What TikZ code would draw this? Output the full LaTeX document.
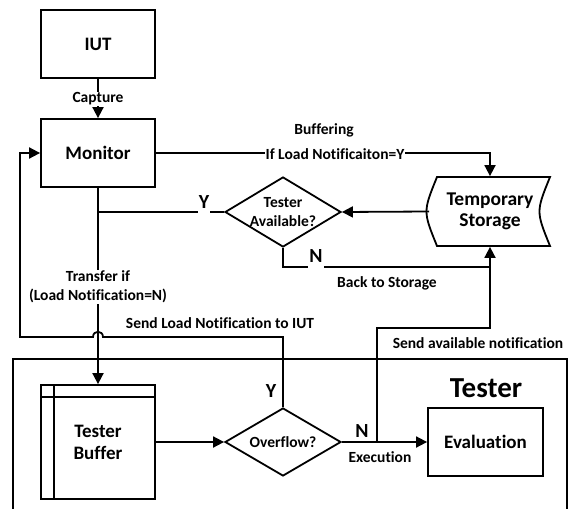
\documentclass[tikz,border=0pt]{standalone}
\usepackage{fontspec}
\setmainfont{Carlito}[Ligatures=NoCommon]
\usetikzlibrary{arrows.meta,shapes.geometric}
\begin{document}
\begin{tikzpicture}[x=1pt,y=-1pt,
 line width=1.8pt,
 arr/.style={-{Triangle[length=11pt,width=11pt]}},
 box/.style={draw,rectangle,minimum width=114pt,minimum height=68pt,font=\fontsize{19}{22}\selectfont\bfseries,align=center,inner sep=0},
 lbl/.style={font=\fontsize{15.5}{19}\selectfont\bfseries,align=center,inner sep=1pt},
 yn/.style={font=\fontsize{20}{22}\selectfont\bfseries,inner sep=1pt},
 dia/.style={draw,diamond,minimum width=116pt,minimum height=70pt,inner sep=0}
]
\useasboundingbox[fill=white] (0,0) rectangle (572,508);
% frame
\draw (13,530) |- (567,359) -- (567,530);
\node[font=\fontsize{29}{32}\selectfont\bfseries] (tst) at (486,388) {Tester};
% nodes
\node[box] (iut) at (98,44) {IUT};
\node[box] (mon) at (98,153) {Monitor};
\node[box, minimum height=114pt] (buf) at (98,442) {Tester\\Buffer};
\draw ([xshift=14pt]buf.north west) -- ([xshift=14pt]buf.south west);
\draw ([yshift=-13pt]buf.north west) -- ([yshift=-13pt]buf.north east);
\node[box, minimum width=115pt] (eva) at (485.5,442) {Evaluation};
\node[dia] (ta) at (283,212) {};
\node[lbl] (tat) at (283,212) {Tester\\Available?};
\node[dia, minimum height=68pt] (ovf) at (283,442) {};
\node[lbl] (ovft) at (283,442) {Overflow?};
\node[minimum width=120pt,minimum height=69pt,inner sep=0,font=\fontsize{19.5}{21}\selectfont\bfseries,align=center] (sto) at (490,211.5) {Temporary\\Storage};
\draw (437,177) -- (550,177) .. controls (536,211.5) .. (550,246) -- (437,246) .. controls (423,211.5) .. (437,177) -- cycle;
% connectors
\draw[arr] (iut) -- (mon);
\node[lbl,fill=white] (cap) at (98,99) {Capture};
\draw[arr] (mon.east) -| (sto.north);
\node[lbl] (buff) at (324,130) {Buffering};
\node[lbl,fill=white] (iflo) at (335,154) {If Load Notificaiton=Y};
\draw[arr] (sto.west) -- (ta.east);
\draw (ta.west) -- (ta.west -| mon.south);
\node[yn,fill=white,anchor=south,inner ysep=5pt] (y1) at (204,214) {Y};
\draw[arr] (mon.south) -- (buf.north);
\node[lbl,fill=white] (tr) at (98,287) {Transfer if\\(Load Notification=N)};
\draw[arr] (ovf.north) -- (283,337) -- (103,337) .. controls (103,330) and (93,330) .. (93,337) -- (20,337) -- (20,153) -- (mon.west);
\node[lbl] (sln) at (220,323) {Send Load Notification to IUT};
\node[yn] (y2) at (271,391) {Y};
\draw[arr] (buf.east) -- (ovf.west);
\draw[arr] (ovf.east) -- (eva.west);
\node[yn,anchor=south] (n2) at (362,439) {N};
\node[lbl] (exe) at (380,457) {Execution};
\coordinate (ex) at (377,442);
\draw[arr] (ex) |- (490,328) -- (sto.south);
\node[lbl] (san) at (478,343) {Send available notification};
\draw (ta.south) |- (490,267);
\node[yn,fill=white,anchor=south,inner ysep=6pt] (n1) at (316,269) {N};
\node[lbl] (bts) at (387,283) {Back to Storage};
\end{tikzpicture}
\end{document}
